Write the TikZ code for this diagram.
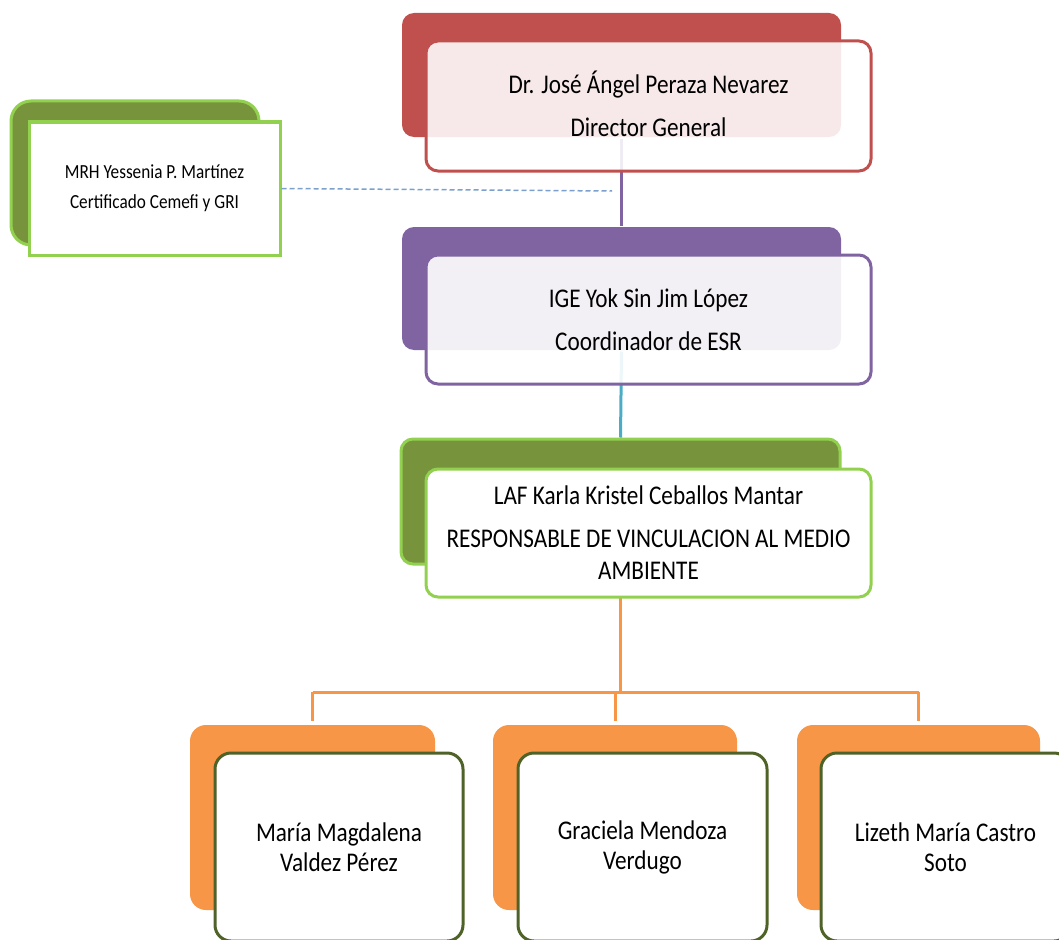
\documentclass[tikz,border=0pt]{standalone}
\usepackage{fontspec}
\setmainfont{Carlito}[FakeStretch=0.86]
\definecolor{cRed}{HTML}{C0504D}
\definecolor{cPurple}{HTML}{8064A2}
\definecolor{cCyan}{HTML}{4BACC6}
\definecolor{cOlive}{HTML}{77933C}
\definecolor{cLGreen}{HTML}{92D050}
\definecolor{cOrange}{HTML}{F79646}
\definecolor{cDOlive}{HTML}{4F6228}
\definecolor{cDash}{HTML}{7BA0CD}
\begin{document}
\begin{tikzpicture}[x=1pt,y=-1pt,
  backbox/.style={rectangle,rounded corners=12pt,inner sep=0pt,line width=3pt},
  frontbox/.style={rectangle,rounded corners=12pt,inner sep=0pt,line width=3pt,align=center,text=black,text opacity=1},
  bigtext/.style={font=\fontsize{27}{32}\selectfont},
  smalltext/.style={font=\fontsize{20}{30}\selectfont},
  conn/.style={line width=3pt}
]
\useasboundingbox (0,0) rectangle (1059,939);
% back boxes
\node[backbox,fill=cRed,minimum width=439pt,minimum height=124pt] (redback) at (621.5,75) {};
\node[backbox,fill=cOlive,draw=cLGreen,rounded corners=20pt,minimum width=248pt,minimum height=144pt] (leftback) at (135,173) {};
\node[backbox,fill=cPurple,minimum width=439pt,minimum height=123pt] (purpleback) at (621.5,288.5) {};
\node[backbox,fill=cOlive,draw=cLGreen,minimum width=439pt,minimum height=125pt] (greenback) at (620.5,501.5) {};
\node[backbox,fill=cOrange,rounded corners=16pt,minimum width=245pt,minimum height=185pt] (ob1) at (312.5,817.5) {};
\node[backbox,fill=cOrange,rounded corners=16pt,minimum width=244pt,minimum height=185pt] (ob2) at (615,817.5) {};
\node[backbox,fill=cOrange,rounded corners=16pt,minimum width=243pt,minimum height=185pt] (ob3) at (918.5,817.5) {};
% connectors
\draw[conn,cPurple] (redback.south) -- (purpleback.north);
\draw[conn,cCyan] (purpleback.south) -- (greenback.north);
\coordinate (hub) at (620.5,692);
\coordinate (hl) at (312.5,692);
\coordinate (hm) at (615,692);
\coordinate (hr) at (918.5,692);
\draw[conn,cOrange] (greenback.south) -- (hub);
\draw[conn,cOrange] (hl) -- (hr);
\draw[conn,cOrange] (hl) -- ([yshift=3pt]ob1.north);
\draw[conn,cOrange] (hm) -- ([yshift=3pt]ob2.north);
\draw[conn,cOrange] (hr) -- ([yshift=3pt]ob3.north);
% front boxes
\node[frontbox,bigtext,draw=cRed,fill=white,fill opacity=0.88,minimum width=445pt,minimum height=130pt] (dir) at (648.5,106)
  {\smash{Dr. José Ángel Peraza Nevarez}\vphantom{Dr}\\[11pt]Director General};
\node[frontbox,smalltext,draw=cLGreen,fill=white,rounded corners=0pt,minimum width=251pt,minimum height=133pt] (mrh) at (154.5,188.5)
  {MRH Yessenia P. Martínez\\Certificado Cemefi y GRI};
\coordinate (dashend) at (612,191);
\draw[cDash,line width=1.5pt,dash pattern=on 5pt off 3pt] (mrh.east) -- (dashend);
\node[frontbox,bigtext,draw=cPurple,fill=white,fill opacity=0.9,minimum width=445pt,minimum height=129pt] (coord) at (648.5,319.5)
  {IGE Yok Sin Jim López\\[11pt]Coordinador de ESR};
\node[frontbox,bigtext,draw=cLGreen,fill=white,minimum width=445pt,minimum height=128pt] (laf) at (648.5,533)
  {LAF Karla Kristel Ceballos Mantar\\[11pt]RESPONSABLE DE VINCULACION AL MEDIO\\AMBIENTE};
\node[frontbox,bigtext,font=\fontsize{27}{30}\selectfont,draw=cDOlive,fill=white,rounded corners=16pt,minimum width=248pt,minimum height=188pt] (p1) at (339,847)
  {María Magdalena\\Valdez Pérez};
\node[frontbox,bigtext,font=\fontsize{27}{30}\selectfont,draw=cDOlive,fill=white,rounded corners=16pt,minimum width=249pt,minimum height=188pt] (p2) at (642.5,847)
  {Graciela Mendoza\\Verdugo};
\node[frontbox,bigtext,font=\fontsize{27}{30}\selectfont,draw=cDOlive,fill=white,rounded corners=16pt,minimum width=249pt,minimum height=188pt] (p3) at (945.5,847)
  {Lizeth María Castro\\Soto};
\end{tikzpicture}
\end{document}
